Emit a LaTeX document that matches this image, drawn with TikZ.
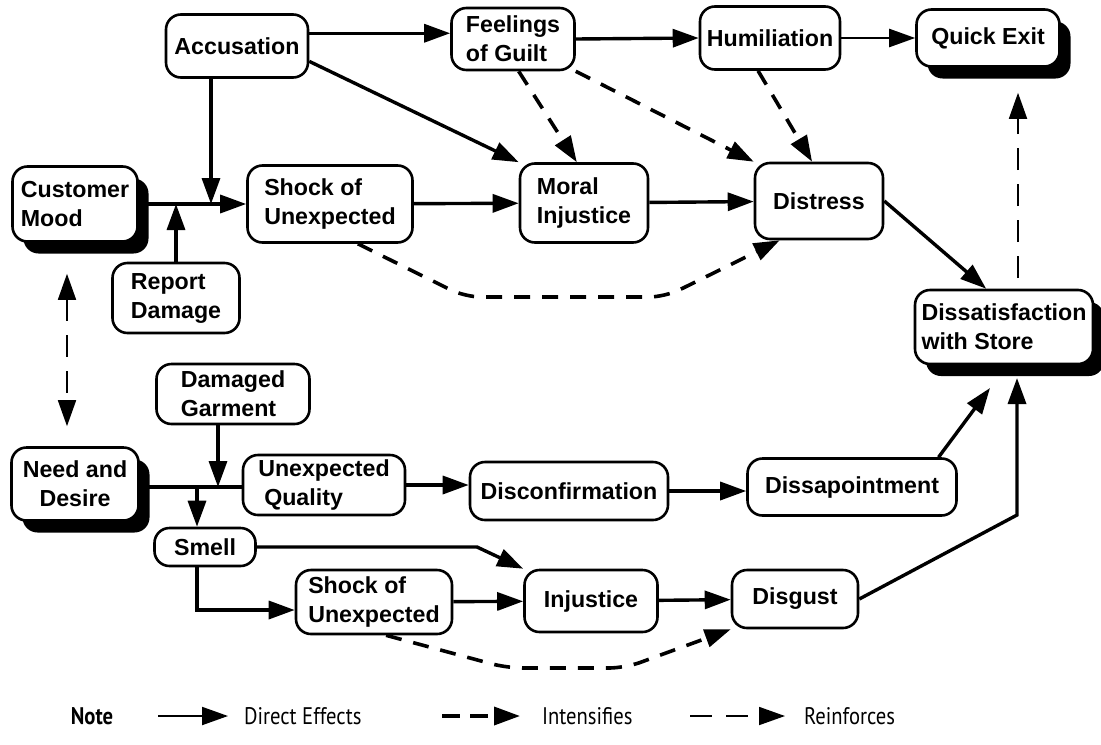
\documentclass[tikz,border=0pt]{standalone}
\usepackage{fontspec}
\setmainfont{Liberation Sans}
\newfontfamily\legendfont[FakeStretch=0.86]{PT Sans}
\usetikzlibrary{arrows.meta}
\usetikzlibrary{shadows}

\begin{document}
\begin{tikzpicture}[x=0.5pt,y=-0.5pt,>={Triangle[length=13pt,width=9pt]},
  box/.style={draw,fill=white,line width=1.3pt,rounded corners=7.5pt,align=left,
    inner xsep=3pt,inner ysep=2pt,font=\bfseries\fontsize{11.6}{14.5}\selectfont},
  shadowed/.style={box,drop shadow={shadow xshift=5.5pt,shadow yshift=-6pt,opacity=1,fill=black}},
  direct/.style={->,line width=1.7pt},
  intense/.style={->,line width=1.8pt,dash pattern=on 8pt off 6pt},
  reinforce/.style={->,line width=0.9pt,dash pattern=on 11pt off 7pt},
  legend/.style={font=\legendfont\fontsize{12}{14}\selectfont}]

  \useasboundingbox (0,0) rectangle (1101,744);

  \node[box,minimum width=71pt,minimum height=31.5pt] (acc) at (237,46) {Accusation};
  \node[box,minimum width=61.5pt,minimum height=31pt] (guilt) at (513,39) {Feelings\\of Guilt};
  \node[box,minimum width=70pt,minimum height=31.5pt] (humil) at (770,38) {Humiliation};
  \node[shadowed,minimum width=71.5pt,minimum height=28.5pt] (exit) at (988,38) {Quick Exit};
  \node[shadowed,minimum width=62.5pt,minimum height=37.5pt] (mood) at (75,204) {Customer\\Mood};
  \node[box,minimum width=82.5pt,minimum height=38.5pt] (shock) at (330,204) {Shock of\\Unexpected};
  \node[box,minimum width=64pt,minimum height=39.5pt] (moral) at (584,203) {Moral\\Injustice};
  \node[box,minimum width=64pt,minimum height=38pt] (distress) at (819,201) {Distress};
  \node[box,minimum width=63.5pt,minimum height=35pt] (report) at (176,298) {Report\\Damage};
  \node[shadowed,minimum width=89pt,minimum height=37pt] (dissat) at (1004,327) {Dissatisfaction\\with Store};

  \node[box,minimum width=76.5pt,minimum height=30pt] (damaged) at (233,394) {Damaged\\Garment};
  \node[shadowed,minimum width=63.5pt,minimum height=36.5pt,align=center] (need) at (75,484) {Need and\\Desire};
  \node[box,minimum width=81pt,minimum height=30pt] (quality) at (324,485) {Unexpected\\\hspace{3pt}Quality};
  \node[box,minimum width=50.5pt,minimum height=19pt] (smell) at (205,547) {Smell};
  \node[box,minimum width=78pt,minimum height=32pt] (shockb) at (374,602) {Shock of\\Unexpected};
  \node[box,minimum width=99pt,minimum height=29pt] (disconf) at (569,491) {Disconfirmation};
  \node[box,minimum width=104.5pt,minimum height=28.5pt] (disapp) at (852,487) {Dissapointment};
  \node[box,minimum width=66.5pt,minimum height=31pt] (injust) at (591,601) {Injustice};
  \node[box,minimum width=63pt,minimum height=29pt] (disgust) at (795,599) {Disgust};

  \coordinate (j1) at (211,204);
  \coordinate (j2) at (176,204);
  \coordinate (j3) at (218,487);
  \coordinate (j4) at (197,487);
  \coordinate (b1) at (465,297);
  \coordinate (b2) at (665,297);
  \coordinate (b3) at (1017,515);
  \coordinate (b4) at (1017,378);
  \coordinate (b5) at (477,547);
  \coordinate (b6) at (507,668);
  \coordinate (b7) at (625,668);
  \coordinate (b8) at (1018,278);
  \coordinate (b9) at (990,388);

  \draw[direct] (acc.10) -- (acc.10 -| guilt.west);
  \draw[direct] (guilt.east) -- (humil.west);
  \draw[->,line width=1.2pt] (humil.east) -- (exit.west);
  \draw[direct] (acc.-12) -- (moral.north west);
  \draw[direct] (acc.south -| j1) -- (j1);
  \draw[direct] (mood.east) -- (shock.west);
  \draw[direct] (report.north) -- (j2);
  \draw[direct] (shock) -- (moral);
  \draw[direct] (moral) -- (distress);
  \draw[intense] (guilt.-80) -- (moral.100);
  \draw[intense] (guilt.south east) -- (distress.north west);
  \draw[intense] (humil.-110) -- (distress.100);
  \draw[intense,rounded corners=8pt] (shock.-55) -- (b1) -- (b2) -- (distress.-135);
  \draw[direct] (distress.east) -- (dissat.115);
  \draw[reinforce,shorten >=12.5pt] (b8) -- (b8 |- exit.south);
  \draw[reinforce,<->,shorten <=15.5pt,shorten >=10pt] ([xshift=-4pt]mood.south) -- ([xshift=-4pt]need.north);

  \draw[direct] (damaged.south -| j3) -- (j3);
  \draw[line width=1.7pt] (need.east |- j4) -- (quality.west |- j4);
  \draw[direct] (j4) -- (j4 |- smell.north);
  \draw[direct] (quality.east) -- (quality.east -| disconf.west);
  \draw[direct] (disconf.east) -- (disconf.east -| disapp.west);
  \draw[direct] (disapp.19) -- (b9);
  \draw[direct] (disgust.east) -- (b3) -- (b4);
  \draw[direct] (smell.east) -- (b5) -- (injust.north west);
  \draw[direct] ([xshift=-4pt]smell.south) |- ([yshift=-4pt]shockb.west);
  \draw[direct] (shockb) -- (injust);
  \draw[direct] (injust) -- (disgust);
  \draw[intense,rounded corners=8pt] (shockb.-70) -- (b6) -- (b7) -- (disgust.south west);

  \node[legend,font=\legendfont\bfseries\fontsize{12}{14}\selectfont] (note) at (92,716) {Note};
  \node[legend,anchor=west] (ldirect) at (237,716) {Direct Effects};
  \node[legend,anchor=west] (lintense) at (535,716) {Intensifies};
  \node[legend,anchor=west] (lreinforce) at (797,716) {Reinforces};
  \draw[->,line width=1pt] ([xshift=-39.5pt]ldirect.west) -- ([xshift=-4.5pt]ldirect.west);
  \draw[intense,dash pattern=on 9pt off 5pt] ([xshift=-46.5pt]lintense.west) -- ([xshift=-7.5pt]lintense.west);
  \draw[reinforce] ([xshift=-53.5pt]lreinforce.west) -- ([xshift=-6pt]lreinforce.west);

\end{tikzpicture}
\end{document}
